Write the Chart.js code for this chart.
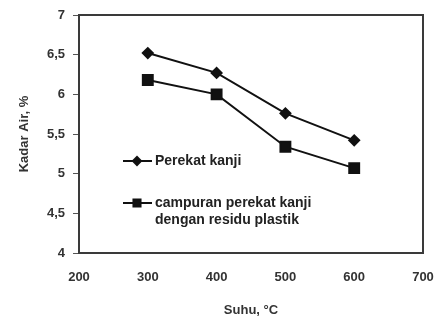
<!DOCTYPE html>
<html>
<head>
<meta charset="utf-8">
<script src="https://cdn.jsdelivr.net/npm/chart.js@4"></script>
<style>
  html, body { margin: 0; padding: 0; background: #fff; }
  #wrap { width: 439px; height: 318px; }
</style>
</head>
<body>
<div id="wrap"><canvas id="chart"></canvas></div>
<script>
// data
const suhu = [300, 400, 500, 600];
const perekatKanji = [6.52, 6.27, 5.76, 5.42];
const campuran = [6.18, 6.00, 5.34, 5.07];
const seriesNames = ['Perekat kanji', 'campuran perekat kanji\ndengan residu plastik'];
const xTicks = [200, 300, 400, 500, 600, 700];
const yTicks = [4, 4.5, 5, 5.5, 6, 6.5, 7];

const FONT = '"Liberation Sans", Arial, sans-serif';

function toPoints(xs, ys) {
    return xs.map((x, i) => ({ x: x, y: ys[i] }));
}

// box round the plot + legend inside the plot
const frameAndLegend = {
    id: 'frameAndLegend',
    afterDraw(chart) {
        const ctx = chart.ctx;
        const a = chart.chartArea;
        ctx.save();
        ctx.strokeStyle = '#3a3a3a';
        ctx.lineWidth = 2;
        ctx.strokeRect(a.left, a.top, a.right - a.left, a.bottom - a.top);

        const rows = [161, 203];
        chart.data.datasets.forEach((ds, i) => {
            const y = rows[i];
            ctx.strokeStyle = ds.borderColor;
            ctx.lineWidth = ds.borderWidth;
            ctx.beginPath();
            ctx.moveTo(123, y);
            ctx.lineTo(152, y);
            ctx.stroke();
            ctx.fillStyle = ds.pointBackgroundColor;
            ctx.strokeStyle = ds.pointBorderColor;
            Chart.helpers.drawPoint(ctx, {
                pointStyle: ds.pointStyle,
                radius: i === 0 ? ds.pointRadius - 1 : ds.pointRadius - 2,
                rotation: 0,
                borderWidth: 1
            }, 137, y);
            ctx.fillStyle = '#222';
            ctx.font = 'bold 14px ' + FONT;
            ctx.textAlign = 'left';
            ctx.textBaseline = 'middle';
            ds.label.split('\n').forEach((line, k) => {
                ctx.fillText(line, 155, y + k * 17);
            });
        });
        ctx.restore();
    }
};

const ctx = document.getElementById('chart').getContext('2d');
const chart = new Chart(ctx, {
    type: 'line',
    data: {
        datasets: [{
            label: seriesNames[0],
            data: toPoints(suhu, perekatKanji),
            borderColor: '#111',
            backgroundColor: '#111',
            pointBackgroundColor: '#111',
            pointBorderColor: '#111',
            borderWidth: 2,
            pointStyle: 'rectRot',
            pointRadius: 5,
            fill: false
        }, {
            label: seriesNames[1],
            data: toPoints(suhu, campuran),
            borderColor: '#111',
            backgroundColor: '#111',
            pointBackgroundColor: '#111',
            pointBorderColor: '#111',
            borderWidth: 2,
            pointStyle: 'rect',
            pointRadius: 7,
            fill: false
        }]
    },
    options: {
        responsive: true,
        maintainAspectRatio: false,
        animation: false,
        events: [],
        layout: { padding: { top: 15, right: 16, bottom: 0, left: 0 } },
        plugins: {
            legend: { display: false },
            tooltip: { enabled: false }
        },
        scales: {
            x: {
                type: 'linear',
                min: 200,
                max: 700,
                afterBuildTicks: s => { s.ticks = xTicks.map(v => ({ value: v })); },
                afterFit: s => {
                    s.height = 65;
                    s.paddingLeft = 0;
                    s.paddingRight = 0;
                },
                grid: { display: false, drawTicks: false },
                border: { display: false },
                ticks: {
                    padding: 17,
                    color: '#333',
                    font: { family: FONT, size: 13, weight: 'bold' }
                },
                title: {
                    display: true,
                    text: 'Suhu, \u00B0C',
                    color: '#333',
                    padding: { top: 1, bottom: 0 },
                    font: { family: FONT, size: 13, weight: 'bold' }
                }
            },
            y: {
                min: 4,
                max: 7,
                afterBuildTicks: s => { s.ticks = yTicks.map(v => ({ value: v })); },
                afterFit: s => {
                    s.width = 79;
                    s.paddingTop = 0;
                    s.paddingBottom = 0;
                },
                grid: {
                    drawOnChartArea: false,
                    drawTicks: true,
                    tickLength: 6,
                    color: '#555',
                    lineWidth: 1
                },
                border: { display: false },
                ticks: {
                    padding: 8,
                    color: '#333',
                    font: { family: FONT, size: 13, weight: 'bold' },
                    callback: v => String(v).replace('.', ',')
                },
                title: {
                    display: true,
                    text: 'Kadar Air, %',
                    color: '#333',
                    padding: { top: 17, bottom: 0 },
                    font: { family: FONT, size: 13, weight: 'bold' }
                }
            }
        }
    },
    plugins: [frameAndLegend]
});
</script>
</body>
</html>
